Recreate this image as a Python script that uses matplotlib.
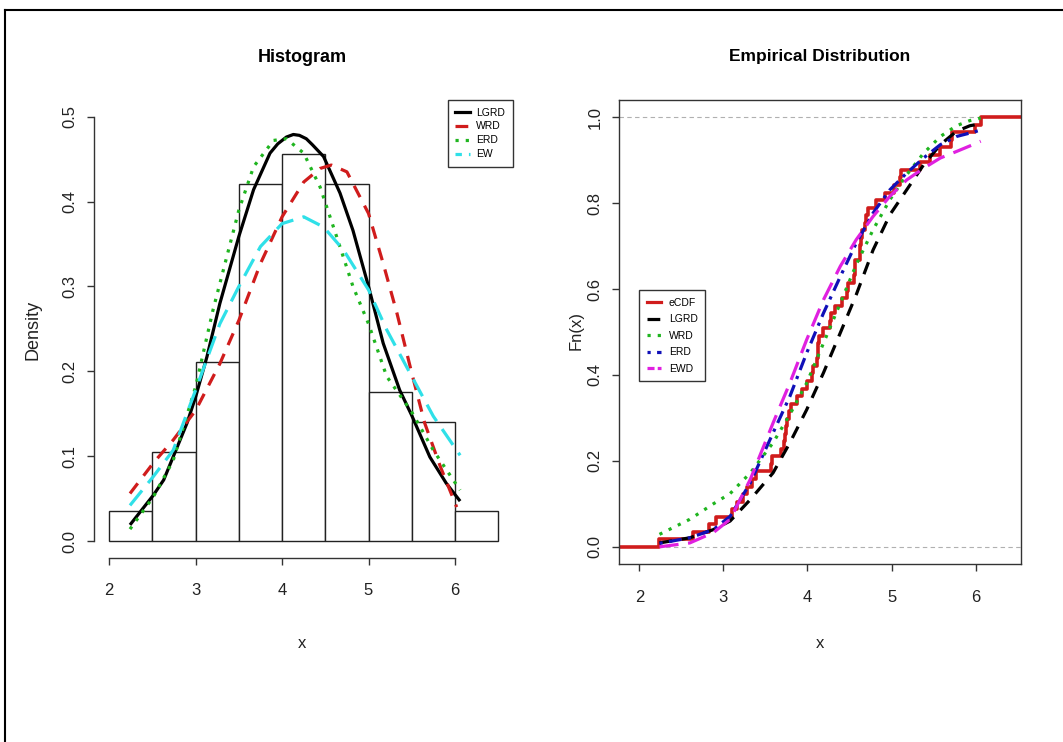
import numpy as np
import matplotlib.pyplot as plt
from matplotlib.lines import Line2D

plt.rcParams['font.family'] = ['Liberation Sans', 'DejaVu Sans']

# sample (n = 57)
x_obs = [2.24,
         2.64, 2.83, 2.91,
         3.10, 3.16, 3.23, 3.28, 3.34, 3.39,
         3.57, 3.58, 3.69, 3.72, 3.73, 3.75, 3.76, 3.78, 3.80, 3.87, 3.93, 3.99,
         4.05, 4.06, 4.11, 4.12, 4.13, 4.14, 4.19, 4.27, 4.28, 4.33, 4.41, 4.47, 4.48,
         4.55, 4.56, 4.57, 4.62, 4.63, 4.64, 4.65, 4.68, 4.69, 4.72, 4.82, 4.92,
         5.03, 5.10, 5.11, 5.34, 5.46,
         5.58, 5.71, 5.72, 5.99,
         6.06]
breaks = [2.0, 2.5, 3.0, 3.5, 4.0, 4.5, 5.0, 5.5, 6.0, 6.5]

# fitted densities (left panel)
lgrd_x = [2.24, 2.51, 2.63, 2.90, 3.00, 3.13, 3.28, 3.50, 3.67, 3.86, 3.95, 4.05, 4.13, 4.20, 4.28, 4.35, 4.48, 4.67, 4.82, 5.00, 5.17, 5.36, 5.50, 5.71, 5.90, 6.06]
lgrd_y = [0.019, 0.054, 0.072, 0.139, 0.170, 0.217, 0.280, 0.359, 0.414, 0.457, 0.468, 0.476, 0.479, 0.478, 0.474, 0.467, 0.453, 0.410, 0.366, 0.300, 0.233, 0.178, 0.148, 0.099, 0.068, 0.047]
wrd_x = [2.24, 2.51, 2.74, 3.00, 3.28, 3.50, 3.75, 4.00, 4.25, 4.44, 4.57, 4.75, 5.00, 5.17, 5.33, 5.50, 5.65, 5.83, 6.02]
wrd_y = [0.056, 0.092, 0.119, 0.154, 0.209, 0.260, 0.327, 0.382, 0.423, 0.439, 0.443, 0.435, 0.386, 0.327, 0.268, 0.198, 0.139, 0.088, 0.040]
erd_x = [2.24, 2.51, 2.74, 3.00, 3.20, 3.36, 3.50, 3.67, 3.90, 4.05, 4.25, 4.44, 4.63, 4.82, 5.00, 5.21, 5.50, 5.75, 5.98, 6.06]
erd_y = [0.014, 0.052, 0.095, 0.182, 0.272, 0.335, 0.390, 0.441, 0.472, 0.474, 0.457, 0.417, 0.359, 0.300, 0.256, 0.194, 0.152, 0.107, 0.072, 0.060]
ew_x = [2.24, 2.51, 2.74, 3.00, 3.28, 3.50, 3.75, 4.00, 4.25, 4.48, 4.71, 5.00, 5.21, 5.50, 5.75, 6.06]
ew_y = [0.042, 0.076, 0.107, 0.178, 0.256, 0.300, 0.347, 0.374, 0.382, 0.370, 0.343, 0.296, 0.249, 0.194, 0.147, 0.101]

# fitted cdfs (right panel)
cdf_x = [2.24, 2.60, 2.88, 3.08, 3.32, 3.59, 3.79, 3.99, 4.19, 4.39, 4.58, 4.78, 4.98, 5.18, 5.38, 5.58, 5.77, 5.93, 6.06]
lgrd_cdf = [0.009, 0.021, 0.040, 0.060, 0.110, 0.172, 0.242, 0.319, 0.405, 0.498, 0.587, 0.691, 0.773, 0.831, 0.889, 0.936, 0.967, 0.980, 0.985]
wrd_cdf = [0.029, 0.064, 0.100, 0.124, 0.172, 0.242, 0.308, 0.381, 0.474, 0.567, 0.657, 0.738, 0.808, 0.866, 0.916, 0.955, 0.980, 0.992, 0.998]
erd_cdf = [0.008, 0.021, 0.040, 0.071, 0.149, 0.265, 0.350, 0.451, 0.544, 0.629, 0.707, 0.777, 0.831, 0.870, 0.905, 0.936, 0.955, 0.963, 0.970]
ewd_cdf = [0.000, 0.009, 0.033, 0.064, 0.157, 0.288, 0.381, 0.482, 0.575, 0.653, 0.715, 0.769, 0.816, 0.854, 0.881, 0.905, 0.920, 0.933, 0.944]

RED = '#d01c1c'
GREEN = '#1fb51f'
CYAN = '#2fe0e8'
BLUE = '#1010b8'
MAGENTA = '#e020e0'
LW = 2.3
LEGFONT = {'family': ['Liberation Sans Narrow', 'Liberation Sans', 'DejaVu Sans'], 'size': 7.5}

fig = plt.figure(figsize=(10.63, 7.42), dpi=100)
W, H = 1063.0, 742.0

def px(x0, y0, x1, y1):
    return [x0 / W, 1 - y1 / H, (x1 - x0) / W, (y1 - y0) / H]

# ---------------- histogram ----------------
ax1 = fig.add_axes(px(93.7, 99.7, 513.7, 558))
ax1.hist(x_obs, bins=breaks, density=True, facecolor='white', edgecolor='#222222', linewidth=1.0)
ax1.plot(lgrd_x, lgrd_y, color='black', lw=LW, solid_capstyle='butt')
ax1.plot(wrd_x, wrd_y, color=RED, lw=LW, dashes=(4, 3))
ax1.plot(erd_x, erd_y, color=GREEN, lw=LW, dashes=(1, 2.2))
ax1.plot(ew_x, ew_y, color=CYAN, lw=LW, dashes=(6, 3))
ax1.set_xlim(1.82, 6.68)
ax1.set_ylim(-0.02, 0.52)
ax1.set_xticks([2, 3, 4, 5, 6])
ax1.set_yticks([0.0, 0.1, 0.2, 0.3, 0.4, 0.5])
ax1.set_yticklabels(['0.0', '0.1', '0.2', '0.3', '0.4', '0.5'])
for s in ['top', 'right']:
    ax1.spines[s].set_visible(False)
ax1.spines['left'].set_bounds(0, 0.5)
ax1.spines['bottom'].set_bounds(2, 6)
leg1 = ax1.legend([Line2D([], [], color='black', lw=LW),
                   Line2D([], [], color=RED, lw=LW, dashes=(4, 3)),
                   Line2D([], [], color=GREEN, lw=LW, dashes=(1, 2.2)),
                   Line2D([], [], color=CYAN, lw=LW, dashes=(2, 2.2))],
                  ['LGRD', 'WRD', 'ERD', 'EW'], loc='upper right', bbox_to_anchor=(0.998, 1.0),
                  borderaxespad=0, prop=LEGFONT, handlelength=1.4, handletextpad=0.6,
                  labelspacing=0.38, fancybox=False, framealpha=1, edgecolor='#333333',
                  borderpad=0.75)
leg1.get_frame().set_linewidth(1.0)

# ---------------- empirical distribution ----------------
ax2 = fig.add_axes(px(619.3, 100, 1021, 564))
xl = (1.762, 6.539)
xs = np.sort(np.array(x_obs))
fn = np.arange(1, len(xs) + 1) / len(xs)
ax2.axhline(0, color='#b0b0b0', lw=0.8, dashes=(4, 3))
ax2.axhline(1, color='#b0b0b0', lw=0.8, dashes=(4, 3))
ax2.step(np.r_[xl[0], xs, xl[1]], np.r_[0, fn, 1], where='post', color=RED, lw=LW + 0.3)
ax2.plot(cdf_x, lgrd_cdf, color='black', lw=LW, dashes=(4, 3))
ax2.plot(cdf_x, wrd_cdf, color=GREEN, lw=LW, dashes=(1, 2.2))
ax2.plot(cdf_x, erd_cdf, color=BLUE, lw=LW, dashes=(1, 2, 4, 2))
ax2.plot(cdf_x, ewd_cdf, color=MAGENTA, lw=LW, dashes=(6, 3))
ax2.set_xlim(*xl)
ax2.set_ylim(-0.04, 1.04)
ax2.set_xticks([2, 3, 4, 5, 6])
ax2.set_yticks([0.0, 0.2, 0.4, 0.6, 0.8, 1.0])
ax2.set_yticklabels(['0.0', '0.2', '0.4', '0.6', '0.8', '1.0'])
leg2 = ax2.legend([Line2D([], [], color=RED, lw=LW),
                   Line2D([], [], color='black', lw=LW, dashes=(4, 3)),
                   Line2D([], [], color=GREEN, lw=LW, dashes=(1, 2.2)),
                   Line2D([], [], color=BLUE, lw=LW, dashes=(1, 2, 4, 2)),
                   Line2D([], [], color=MAGENTA, lw=LW, dashes=(2.2, 1))],
                  ['eCDF', 'LGRD', 'WRD', 'ERD', 'EWD'], loc='upper left',
                  bbox_to_anchor=(0.049, 0.5905), borderaxespad=0, prop=LEGFONT,
                  handlelength=1.4, handletextpad=0.7, labelspacing=0.62, fancybox=False,
                  framealpha=1, edgecolor='#333333', borderpad=0.75)
leg2.get_frame().set_linewidth(1.0)

for ax in (ax1, ax2):
    ax.tick_params(direction='out', length=5, width=1.0, color='#333333',
                   labelsize=12, labelcolor='#222222')
    ax.tick_params(axis='y', pad=7, labelrotation=90)
    for lab in ax.get_yticklabels():
        lab.set_va('center')
    for s in ax.spines.values():
        s.set_color('#333333')
        s.set_linewidth(1.0)
ax1.tick_params(axis='x', pad=13)
ax2.tick_params(axis='x', pad=14)

fig.text(302 / W, 1 - 57 / H, 'Histogram', ha='center', va='center', fontsize=13, fontweight='bold')
fig.text(820 / W, 1 - 57 / H, 'Empirical Distribution', ha='center', va='center', fontsize=12.5, fontweight='bold')
fig.text(302 / W, 1 - 643 / H, 'x', ha='center', va='center', fontsize=12, color='#222222')
fig.text(820 / W, 1 - 643 / H, 'x', ha='center', va='center', fontsize=12, color='#222222')
fig.text(33 / W, 1 - 330 / H, 'Density', ha='center', va='center', rotation=90, fontsize=13, color='#222222')
fig.text(576 / W, 1 - 330 / H, 'Fn(x)', ha='center', va='center', rotation=90, fontsize=12, color='#222222')

# page border seen in the picture
fig.add_artist(Line2D([4.5 / W, 1], [1 - 9.5 / H, 1 - 9.5 / H], color='black', lw=1.5))
fig.add_artist(Line2D([4.5 / W, 4.5 / W], [0, 1 - 9.5 / H], color='black', lw=1.5))

fig.savefig('out.png', dpi=100)
